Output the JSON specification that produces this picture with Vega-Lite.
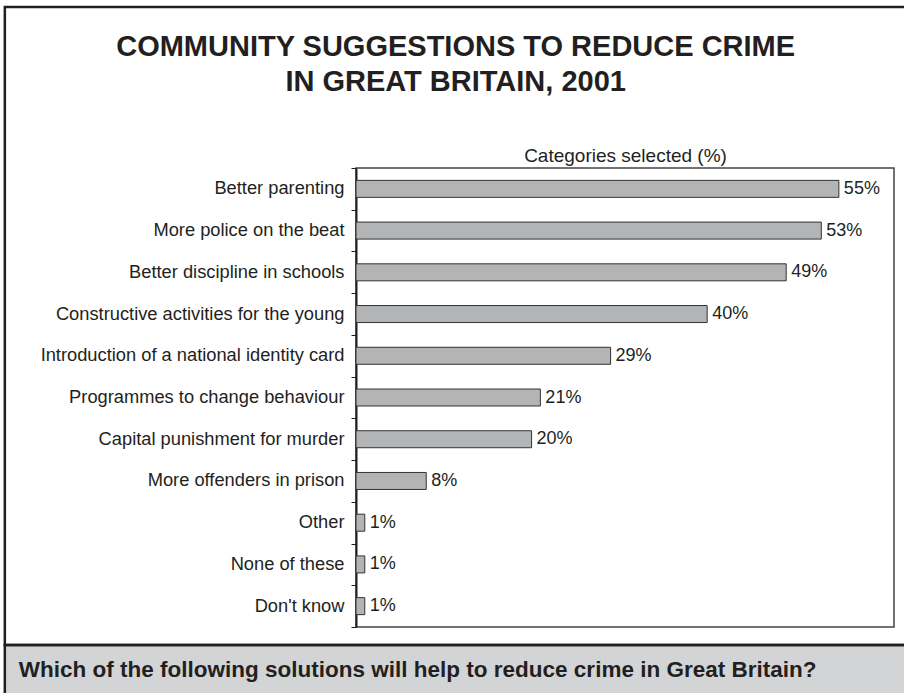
{
  "$schema": "https://vega.github.io/schema/vega-lite/v6.json",
  "padding": {"left": 3, "top": 5, "right": 0, "bottom": 0},
  "background": "white",
  "config": {
    "font": "Liberation Sans",
    "view": {"stroke": "#444444", "strokeWidth": 1.5}
  },
  "title": {
    "text": ["COMMUNITY SUGGESTIONS TO REDUCE CRIME", "IN GREAT BRITAIN, 2001"],
    "fontSize": 29,
    "font": "Liberation Sans",
    "fontWeight": "bold",
    "color": "#231f20",
    "lineHeight": 35,
    "anchor": "middle",
    "offset": -91
  },
  "bounds": "flush",
  "spacing": 18,
  "vconcat": [
    {
      "width": 538,
      "height": 459,
      "data": {
        "values": [
          {"category": "Better parenting", "pct": 55, "label": "55%"},
          {"category": "More police on the beat", "pct": 53, "label": "53%"},
          {"category": "Better discipline in schools", "pct": 49, "label": "49%"},
          {"category": "Constructive activities for the young", "pct": 40, "label": "40%"},
          {"category": "Introduction of a national identity card", "pct": 29, "label": "29%"},
          {"category": "Programmes to change behaviour", "pct": 21, "label": "21%"},
          {"category": "Capital punishment for murder", "pct": 20, "label": "20%"},
          {"category": "More offenders in prison", "pct": 8, "label": "8%"},
          {"category": "Other", "pct": 1, "label": "1%"},
          {"category": "None of these", "pct": 1, "label": "1%"},
          {"category": "Don't know", "pct": 1, "label": "1%"}
        ]
      },
      "encoding": {
        "y": {
          "field": "category",
          "type": "nominal",
          "sort": null,
          "scale": {"paddingInner": 0, "paddingOuter": 0},
          "axis": {
            "title": null,
            "labelFontSize": 18.3,
            "labelColor": "#231f20",
            "labelPadding": 7,
            "labelLimit": 345,
            "tickSize": 5,
            "tickBand": "extent",
            "tickColor": "#231f20",
            "tickWidth": 1,
            "domainColor": "#231f20",
            "domainWidth": 2
          }
        },
        "x": {
          "field": "pct",
          "type": "quantitative",
          "scale": {"domain": [0, 61.28], "nice": false},
          "axis": {
            "orient": "top",
            "title": "Categories selected (%)",
            "titleFontSize": 19,
            "titleFontWeight": "normal",
            "titleColor": "#231f20",
            "titlePadding": 3,
            "labels": false,
            "ticks": false,
            "domain": false,
            "grid": false
          }
        }
      },
      "layer": [
        {
          "mark": {"type": "bar", "height": 17, "fill": "#b3b4b6", "stroke": "#333333", "strokeWidth": 1}
        },
        {
          "mark": {"type": "text", "align": "left", "baseline": "middle", "dx": 5, "fontSize": 18, "color": "#231f20"},
          "encoding": {"text": {"field": "label"}}
        }
      ]
    },
    {
      "width": 538,
      "height": 50,
      "view": {"stroke": null},
      "data": {"values": [{"question": "Which of the following solutions will help to reduce crime in Great Britain?"}]},
      "layer": [
        {
          "mark": {"type": "rect", "fill": "#d3d4d6", "stroke": "#231f20", "strokeWidth": 2.5},
          "encoding": {
            "x": {"datum": -40, "type": "quantitative", "scale": {"domain": [0, 61.28], "nice": false, "zero": false}, "axis": null},
            "x2": {"datum": 62.7},
            "y": {"datum": 0, "type": "quantitative", "scale": {"domain": [0, 1], "nice": false}, "axis": null},
            "y2": {"datum": 1}
          }
        },
        {
          "mark": {"type": "rect", "fill": null, "fillOpacity": 0, "stroke": "#231f20", "strokeWidth": 2.5},
          "encoding": {
            "x": {"datum": -40, "type": "quantitative"},
            "x2": {"datum": 62.7},
            "y": {"datum": 1, "type": "quantitative"},
            "y2": {"datum": 13.76}
          }
        },
        {
          "mark": {"type": "text", "align": "left", "baseline": "middle", "fontSize": 22.5, "fontWeight": "bold", "color": "#231f20"},
          "encoding": {
            "x": {"datum": -38.4, "type": "quantitative"},
            "y": {"datum": 0.5, "type": "quantitative"},
            "text": {"field": "question"}
          }
        }
      ]
    }
  ]
}
